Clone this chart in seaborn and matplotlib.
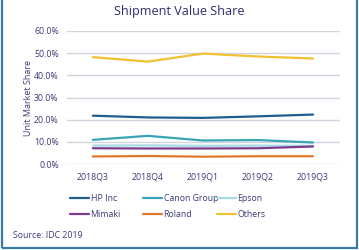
import matplotlib
matplotlib.use("Agg")
import matplotlib.pyplot as plt
import seaborn as sns
import pandas as pd
from matplotlib.patches import Rectangle
from matplotlib.lines import Line2D

quarters = ["2018Q3", "2018Q4", "2019Q1", "2019Q2", "2019Q3"]
hp = [21.8, 21.0, 20.8, 21.5, 22.3]
canon = [10.9, 12.7, 10.6, 10.8, 9.7]
epson = [8.3, 8.4, 8.2, 8.3, 8.2]
mimaki = [7.1, 7.0, 7.0, 7.1, 7.9]
roland = [3.4, 3.6, 3.3, 3.5, 3.5]
others = [48.2, 46.2, 49.8, 48.5, 47.6]

series = ["HP Inc", "Canon Group", "Epson", "Mimaki", "Roland", "Others"]
values = [hp, canon, epson, mimaki, roland, others]
colors = ["#1f5e8c", "#3aa3b8", "#a9dbe6", "#7d3a8e", "#e0782c", "#f0c232"]

rows = []
for name, vals in zip(series, values):
    for q, v in zip(quarters, vals):
        rows.append({"Quarter": q, "Share": v, "Company": name})
df = pd.DataFrame(rows)
df["x"] = df["Quarter"].map({q: i for i, q in enumerate(quarters)})

sns.set_theme(style="white")
plt.rcParams['font.family'] = ['Open Sans', 'DejaVu Sans']
txt = "#3b3b78"

fig = plt.figure(figsize=(3.59, 2.5), dpi=100)
ax = fig.add_axes([67/359, 1-164/250, (340-67)/359, (164-31)/250])

sns.lineplot(data=df, x="x", y="Share", hue="Company", hue_order=series,
             palette=colors, linewidth=1.6, ax=ax, legend=False)

ax.set_xlim(-0.47, 4.49)
ax.set_ylim(0, 60)
ax.set_yticks(range(0, 61, 10))
ax.set_yticklabels([f"{v:.1f}%" for v in range(0, 61, 10)], fontsize=6.3, color=txt)
ax.set_xticks(range(len(quarters)))
ax.set_xticklabels(quarters, fontsize=6.3, color=txt)
ax.tick_params(axis="both", length=0, pad=6)
ax.yaxis.grid(True, color="#d3d3e0", linewidth=1.0)
ax.set_axisbelow(True)
for s in ax.spines.values():
    s.set_visible(False)
ax.set_xlabel("")
ax.set_ylabel("Unit Market Share", fontsize=6.5, color=txt, labelpad=1)

fig.text(179/359, 1-12/250, "Shipment Value Share", ha="center", va="center",
         fontsize=9.1, color="#2e2e6e")

col_x = [70, 143, 217]
for ci, cx in enumerate(col_x):
    idx = [ci, ci + 3]
    hs = [Line2D([0], [0], color=colors[i], linewidth=1.6) for i in idx]
    labs = [series[i] for i in idx]
    leg = fig.legend(hs, labs, ncol=1, loc="upper left",
                     bbox_to_anchor=(cx/359, 1-194/250), frameon=False,
                     fontsize=6.3, handlelength=2.2, handletextpad=0.15,
                     labelspacing=0.75, borderpad=0, borderaxespad=0)
    for t in leg.get_texts():
        t.set_color(txt)

fig.text(13/359, 1-236/250, "Source: IDC 2019", ha="left", va="center",
         fontsize=6.3, color=txt)

fig.patches.append(Rectangle((2/359, 2/250), 355/359, 260/250, transform=fig.transFigure,
                             fill=False, edgecolor="#3a7ca6", linewidth=1.6))

fig.savefig("out.png", dpi=100)
